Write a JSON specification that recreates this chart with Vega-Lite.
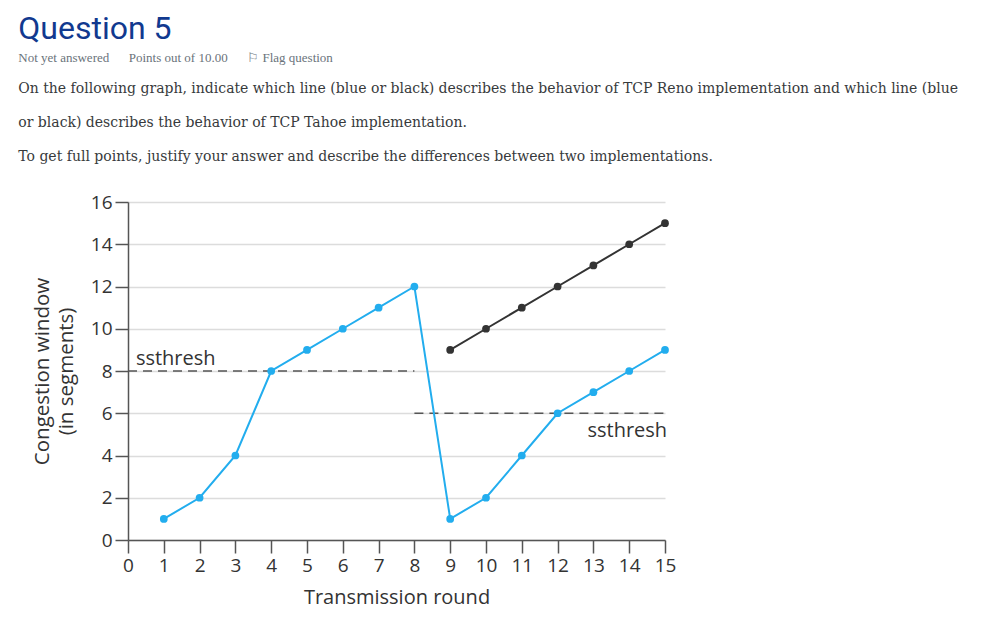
{
  "$schema": "https://vega.github.io/schema/vega-lite/v6.json",
  "background": "white",
  "padding": {"left": 18, "top": 13, "right": 0, "bottom": 12},
  "title": {
    "text": "Question 5",
    "subtitle": "Not yet answered\u00a0\u00a0\u00a0\u00a0\u00a0\u00a0Points out of 10.00\u00a0\u00a0\u00a0\u00a0\u00a0\u00a0\u2690 Flag question",
    "anchor": "start",
    "frame": "bounds",
    "font": "Roboto",
    "fontSize": 32,
    "fontWeight": "normal",
    "color": "#11398f",
    "subtitleFont": "Liberation Serif",
    "subtitleFontSize": 13,
    "subtitleColor": "#6a737b",
    "subtitlePadding": 6,
    "offset": 16
  },
  "vconcat": [
    {
      "width": 537,
      "height": 338,
      "title": {
        "text": [
          "On the following graph, indicate which line (blue or black) describes the behavior of TCP Reno implementation and which line (blue",
          "or black) describes the behavior of TCP Tahoe implementation.",
          "To get full points, justify your answer and describe the differences between two implementations."
        ],
        "anchor": "start",
        "frame": "bounds",
        "dx": -14,
        "font": "DejaVu Serif",
        "fontSize": 14,
        "fontWeight": "normal",
        "color": "#373a3c",
        "lineHeight": 34,
        "offset": 29
      },
      "encoding": {
        "x": {
          "field": "round",
          "type": "quantitative",
          "scale": {"domain": [0, 15], "nice": false, "zero": false},
          "axis": {
            "values": [0, 1, 2, 3, 4, 5, 6, 7, 8, 9, 10, 11, 12, 13, 14, 15],
            "grid": false,
            "title": "Transmission round",
            "labelFlush": false,
            "labelOverlap": false,
            "domainColor": "#555555",
            "domainWidth": 1.5,
            "tickColor": "#555555",
            "tickWidth": 1.5,
            "tickSize": 13,
            "labelFont": "Open Sans",
            "labelFontSize": 19,
            "labelColor": "#333333",
            "labelPadding": 3,
            "titleFont": "Open Sans",
            "titleFontSize": 20,
            "titleFontWeight": "normal",
            "titleColor": "#333333",
            "titlePadding": 12
          }
        },
        "y": {
          "field": "cwnd",
          "type": "quantitative",
          "scale": {"domain": [0, 16], "nice": false},
          "axis": {
            "values": [0, 2, 4, 6, 8, 10, 12, 14, 16],
            "grid": true,
            "gridColor": "#dcdcdc",
            "gridWidth": 1.5,
            "title": ["Congestion window", "(in segments)"],
            "labelFlush": false,
            "labelOverlap": false,
            "domainColor": "#555555",
            "domainWidth": 1.5,
            "tickColor": "#555555",
            "tickWidth": 1.5,
            "tickSize": 13,
            "labelFont": "Open Sans",
            "labelFontSize": 19,
            "labelColor": "#333333",
            "labelPadding": 3,
            "titleFont": "Open Sans",
            "titleFontSize": 20.5,
            "titleFontWeight": "normal",
            "titleColor": "#333333",
            "titleLineHeight": 24,
            "titlePadding": 14
          }
        }
      },
      "layer": [
        {
          "data": {"values": [
            {"round": 0, "round2": 8, "cwnd": 8},
            {"round": 8, "round2": 15, "cwnd": 6}
          ]},
          "mark": {"type": "rule", "strokeDash": [9, 6], "color": "#555555", "strokeWidth": 1.5},
          "encoding": {"x2": {"field": "round2"}}
        },
        {
          "data": {"values": [
            {"series": "blue", "round": 1, "cwnd": 1},
            {"series": "blue", "round": 2, "cwnd": 2},
            {"series": "blue", "round": 3, "cwnd": 4},
            {"series": "blue", "round": 4, "cwnd": 8},
            {"series": "blue", "round": 5, "cwnd": 9},
            {"series": "blue", "round": 6, "cwnd": 10},
            {"series": "blue", "round": 7, "cwnd": 11},
            {"series": "blue", "round": 8, "cwnd": 12},
            {"series": "blue", "round": 9, "cwnd": 1},
            {"series": "blue", "round": 10, "cwnd": 2},
            {"series": "blue", "round": 11, "cwnd": 4},
            {"series": "blue", "round": 12, "cwnd": 6},
            {"series": "blue", "round": 13, "cwnd": 7},
            {"series": "blue", "round": 14, "cwnd": 8},
            {"series": "blue", "round": 15, "cwnd": 9},
            {"series": "black", "round": 9, "cwnd": 9},
            {"series": "black", "round": 10, "cwnd": 10},
            {"series": "black", "round": 11, "cwnd": 11},
            {"series": "black", "round": 12, "cwnd": 12},
            {"series": "black", "round": 13, "cwnd": 13},
            {"series": "black", "round": 14, "cwnd": 14},
            {"series": "black", "round": 15, "cwnd": 15}
          ]},
          "mark": {"type": "line", "strokeWidth": 2, "point": {"filled": true, "size": 60, "opacity": 1}},
          "encoding": {
            "color": {
              "field": "series",
              "type": "nominal",
              "scale": {"domain": ["blue", "black"], "range": ["#22adee", "#333333"]},
              "legend": null
            }
          }
        },
        {
          "data": {"values": [{"round": 0.22, "cwnd": 8.28, "label": "ssthresh"}]},
          "mark": {"type": "text", "align": "left", "baseline": "alphabetic", "font": "Open Sans", "fontSize": 20, "color": "#333333"},
          "encoding": {"text": {"field": "label"}}
        },
        {
          "data": {"values": [{"round": 15.06, "cwnd": 4.88, "label": "ssthresh"}]},
          "mark": {"type": "text", "align": "right", "baseline": "alphabetic", "font": "Open Sans", "fontSize": 20, "color": "#333333"},
          "encoding": {"text": {"field": "label"}}
        }
      ]
    }
  ],
  "config": {"view": {"stroke": null}, "concat": {"spacing": 0}}
}
